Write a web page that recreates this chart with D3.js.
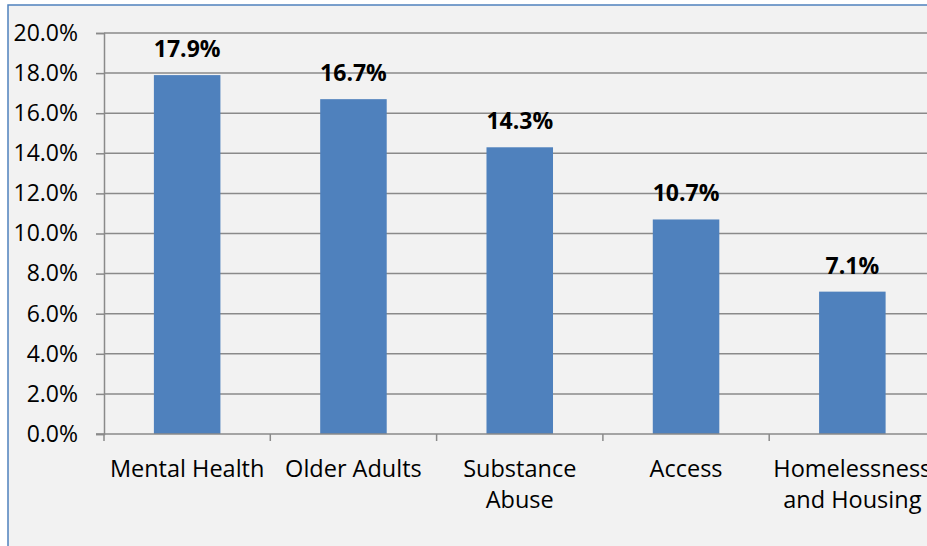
<!DOCTYPE html>
<html>
<head>
<meta charset="utf-8">
<script src="https://cdn.jsdelivr.net/npm/d3@7"></script>
<style>
  html, body { margin: 0; padding: 0; background: #ffffff; }
  svg { display: block; }
  text { font-family: "Open Sans", Lato, sans-serif; fill: #000; }
</style>
</head>
<body>
<svg id="chart" width="927" height="546"></svg>
<script>
// Share of responses by priority area
const categories = ["Mental Health", "Older Adults", "Substance\nAbuse", "Access", "Homelessness\nand Housing"];
const values = [17.9, 16.7, 14.3, 10.7, 7.1];
const yTicks = [0, 2, 4, 6, 8, 10, 12, 14, 16, 18, 20];

const W = 927, H = 546;
const FONT = "'Open Sans', Lato, sans-serif";
const svg = d3.select("#chart");

// Chart area frame
svg.append("rect")
  .attr("x", 8).attr("y", 5)
  .attr("width", W).attr("height", H)
  .attr("fill", "#f2f2f2")
  .attr("stroke", "#4f81bd").attr("stroke-width", 1.5);

const plot = { left: 104, top: 33, bottom: 434 };
const step = 166.3;

const x = d3.scaleBand()
  .domain(categories)
  .range([plot.left, plot.left + step * categories.length])
  .padding(0);

const y = d3.scaleLinear().domain([0, 20]).range([plot.bottom, plot.top]);

// Horizontal gridlines
svg.append("g")
  .selectAll("line")
  .data(yTicks.filter(d => d > 0))
  .join("line")
  .attr("x1", plot.left).attr("x2", W)
  .attr("y1", d => y(d)).attr("y2", d => y(d))
  .attr("stroke", "#8a8a8a").attr("stroke-width", 1.5);

// Y axis
const yAxis = d3.axisLeft(y)
  .tickValues(yTicks)
  .tickSize(8)
  .tickPadding(18)
  .tickFormat(d => d.toFixed(1) + "%");
const gy = svg.append("g")
  .attr("transform", `translate(${plot.left},0)`)
  .call(yAxis);
gy.select(".domain").attr("stroke", "#8a8a8a").attr("stroke-width", 1.5);
gy.selectAll(".tick line").attr("stroke", "#8a8a8a").attr("stroke-width", 1.5);
gy.selectAll(".tick text")
  .attr("font-family", FONT)
  .attr("font-size", 23).attr("fill", "#000");

// Bars
const barW = x.bandwidth() * 0.4;
svg.append("g")
  .selectAll("rect")
  .data(values)
  .join("rect")
  .attr("x", (d, i) => x(categories[i]) + (x.bandwidth() - barW) / 2)
  .attr("y", d => y(d))
  .attr("width", barW)
  .attr("height", d => y(0) - y(d))
  .attr("fill", "#4f81bd");

// X axis with category boundary ticks
svg.append("line")
  .attr("x1", plot.left - 8).attr("x2", W)
  .attr("y1", y(0)).attr("y2", y(0))
  .attr("stroke", "#8a8a8a").attr("stroke-width", 1.5);
const bounds = d3.range(categories.length + 1).map(i => plot.left + i * x.step());
svg.append("g")
  .selectAll("line")
  .data(bounds)
  .join("line")
  .attr("x1", d => d).attr("x2", d => d)
  .attr("y1", y(0)).attr("y2", y(0) + 7)
  .attr("stroke", "#8a8a8a").attr("stroke-width", 1.5);

// Category labels
const lab = svg.append("g")
  .selectAll("text")
  .data(categories)
  .join("text")
  .attr("text-anchor", "middle")
  .attr("font-size", 23.5)
  .attr("x", d => x(d) + x.bandwidth() / 2)
  .attr("y", 477);
lab.selectAll("tspan")
  .data(d => d.split("\n"))
  .join("tspan")
  .attr("x", function() { return d3.select(this.parentNode).attr("x"); })
  .attr("dy", (d, i) => i === 0 ? 0 : 31)
  .text(d => d);

// Value labels
svg.append("g")
  .selectAll("text")
  .data(values)
  .join("text")
  .attr("text-anchor", "middle")
  .attr("font-size", 23)
  .attr("font-weight", "bold")
  .attr("x", (d, i) => x(categories[i]) + x.bandwidth() / 2)
  .attr("y", d => y(d) - 18)
  .text(d => d.toFixed(1) + "%");
</script>
</body>
</html>
